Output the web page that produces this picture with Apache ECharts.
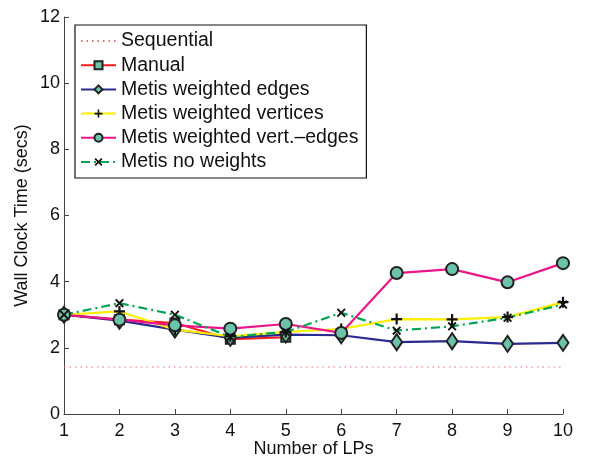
<!DOCTYPE html>
<html>
<head>
<meta charset="utf-8">
<script src="https://cdn.jsdelivr.net/npm/echarts@6/dist/echarts.min.js"></script>
<style>html,body{margin:0;padding:0;background:#fff;}#c{width:593px;height:464px;}</style>
</head>
<body>
<div id="c"></div>
<script>
const lps = [1, 2, 3, 4, 5, 6, 7, 8, 9, 10];
const manualLps = [1, 2, 3, 4, 5];
const sequential = [1.42, 1.42, 1.42, 1.42, 1.42, 1.42, 1.42, 1.42, 1.42, 1.42];
const manual = [3.0, 2.85, 2.75, 2.26, 2.32];
const weightedEdges = [3.0, 2.82, 2.55, 2.3, 2.4, 2.38, 2.17, 2.2, 2.12, 2.15];
const weightedVertices = [3.0, 3.1, 2.55, 2.35, 2.48, 2.57, 2.87, 2.86, 2.93, 3.38];
const weightedVertEdges = [3.0, 2.85, 2.68, 2.58, 2.72, 2.45, 4.26, 4.38, 3.98, 4.56];
const noWeights = [3.0, 3.35, 3.0, 2.33, 2.48, 3.06, 2.52, 2.65, 2.91, 3.31];
const yTicks = [0, 2, 4, 6, 8, 10, 12];

const pair = (xs, ys) => xs.map((x, i) => [x, ys[i]]);
const FONT = 'Liberation Sans';
const markerFill = '#6cc3aa';
const markerEdge = '#222';
const plusPath = 'path://M4,0L6,0L6,4L10,4L10,6L6,6L6,10L4,10L4,6L0,6L0,4L4,4Z';
const crossPath = 'path://M1.5,0L5,3.5L8.5,0L10,1.5L6.5,5L10,8.5L8.5,10L5,6.5L1.5,10L0,8.5L3.5,5L0,1.5Z';

const chart = echarts.init(document.getElementById('c'));
chart.setOption({
  animation: false,
  backgroundColor: '#fff',
  textStyle: { fontFamily: FONT },
  grid: { left: 64, right: 30, top: 17, bottom: 50, outerBoundsMode: 'none', containLabel: false },
  legend: {
    orient: 'vertical',
    left: 75, top: 25,
    padding: [6, 8, 6, 5],
    itemGap: 4.2,
    itemWidth: 35, itemHeight: 10,
    backgroundColor: '#fff',
    borderColor: '#111', borderWidth: 1.2,
    textStyle: { fontFamily: FONT, fontSize: 19.5, color: '#111' },
    data: ['Sequential', 'Manual', 'Metis weighted edges', 'Metis weighted vertices',
           'Metis weighted vert.\u2013edges', 'Metis no weights']
  },
  xAxis: {
    type: 'value', min: 1, max: 10, interval: 1,
    name: 'Number of LPs', nameLocation: 'middle', nameGap: 26, nameMoveOverlap: false,
    nameTextStyle: { fontFamily: FONT, fontSize: 18, color: '#111' },
    axisLine: { show: true, onZero: false, lineStyle: { color: '#444', width: 1 } },
    axisTick: { show: true, inside: true, length: 5, lineStyle: { color: '#444' } },
    axisLabel: { fontFamily: FONT, fontSize: 18, color: '#111', margin: 8 },
    splitLine: { show: false }
  },
  yAxis: {
    type: 'value', min: 0, max: 12, interval: 2,
    name: 'Wall Clock Time (secs)', nameLocation: 'middle', nameGap: 33, nameMoveOverlap: false,
    nameTextStyle: { fontFamily: FONT, fontSize: 18, color: '#111' },
    axisLine: { show: true, lineStyle: { color: '#444', width: 1 } },
    axisTick: { show: true, inside: true, length: 5, lineStyle: { color: '#444' } },
    axisLabel: { fontFamily: FONT, fontSize: 18, color: '#111', margin: 4,
                 formatter: v => yTicks.indexOf(v) >= 0 ? String(v) : '' },
    splitLine: { show: false }
  },
  series: [
    {
      name: 'Sequential', type: 'line', data: pair(lps, sequential),
      symbol: 'none', itemStyle: { color: '#f07070', opacity: 0 },
      lineStyle: { color: '#f07070', width: 1.2, type: [1.5, 4] }
    },
    {
      name: 'Manual', type: 'line', data: pair(manualLps, manual),
      symbol: 'rect', symbolSize: 9,
      lineStyle: { color: '#ff1a1a', width: 2.2 },
      itemStyle: { color: markerFill, borderColor: markerEdge, borderWidth: 2 }
    },
    {
      name: 'Metis weighted edges', type: 'line', data: pair(lps, weightedEdges),
      symbol: 'diamond', symbolSize: [11, 16],
      lineStyle: { color: '#2a2a90', width: 2.2 },
      itemStyle: { color: markerFill, borderColor: markerEdge, borderWidth: 2 }
    },
    {
      name: 'Metis weighted vertices', type: 'line', data: pair(lps, weightedVertices),
      symbol: plusPath, symbolSize: 11,
      lineStyle: { color: '#ffee00', width: 2.2 },
      itemStyle: { color: '#111', borderWidth: 0 }
    },
    {
      name: 'Metis weighted vert.\u2013edges', type: 'line', data: pair(lps, weightedVertEdges),
      symbol: 'circle', symbolSize: 12,
      lineStyle: { color: '#ee1489', width: 2.2 },
      itemStyle: { color: markerFill, borderColor: markerEdge, borderWidth: 2 }
    },
    {
      name: 'Metis no weights', type: 'line', data: pair(lps, noWeights),
      symbol: crossPath, symbolSize: 9,
      lineStyle: { color: '#00a651', width: 2.2, type: [9, 4, 2, 4] },
      itemStyle: { color: '#111', borderWidth: 0 }
    }
  ]
});
</script>
</body>
</html>
